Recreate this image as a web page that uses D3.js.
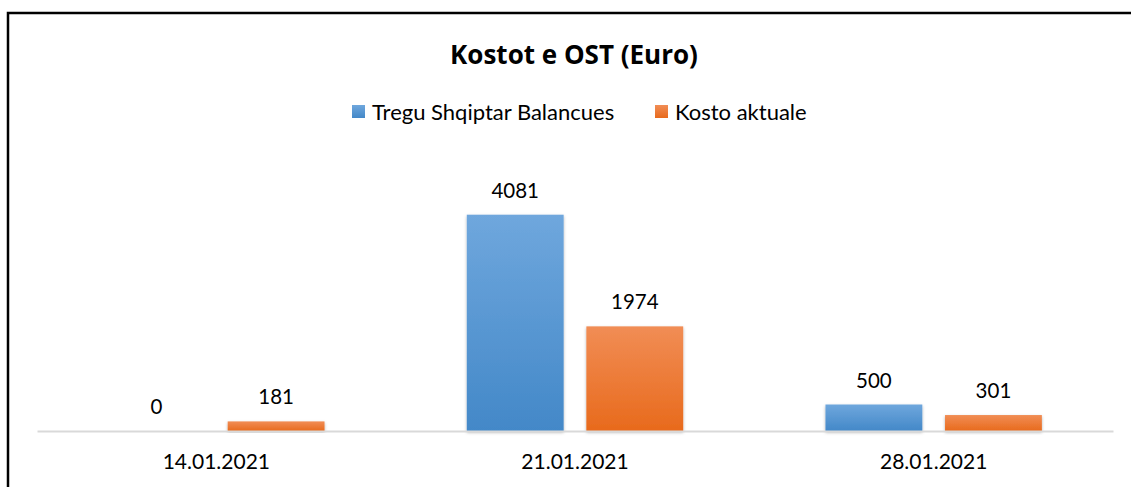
<!DOCTYPE html>
<html>
<head>
<meta charset="utf-8">
<script src="https://cdn.jsdelivr.net/npm/d3@7"></script>
<style>
  html, body { margin: 0; padding: 0; background: #fff; }
  svg { display: block; font-family: Lato, "Open Sans", sans-serif; }
</style>
</head>
<body>
<svg id="chart" width="1131" height="487"></svg>
<script>
// Costs per date, two series
const categories = ["14.01.2021", "21.01.2021", "28.01.2021"];
const seriesNames = ["Tregu Shqiptar Balancues", "Kosto aktuale"];
const tregu = [0, 4081, 500];
const kosto = [181, 1974, 301];
const title = "Kostot e OST (Euro)";

const seriesValues = [tregu, kosto];
const colors = [
  { top: "#6fa7dd", bottom: "#4388c8" },
  { top: "#f18d55", bottom: "#e86a1c" }
];

const svg = d3.select("#chart");
const W = 1131, H = 487;

// gradients + soft shadow
const defs = svg.append("defs");
colors.forEach((c, i) => {
  const g = defs.append("linearGradient").attr("id", "grad" + i)
    .attr("x1", 0).attr("y1", 0).attr("x2", 0).attr("y2", 1);
  g.append("stop").attr("offset", "0%").attr("stop-color", c.top);
  g.append("stop").attr("offset", "100%").attr("stop-color", c.bottom);
});
const f = defs.append("filter").attr("id", "shadow")
  .attr("x", "-20%").attr("y", "-20%").attr("width", "140%").attr("height", "140%");
f.append("feDropShadow").attr("dx", 0).attr("dy", 1.5).attr("stdDeviation", 1.5)
  .attr("flood-color", "#000").attr("flood-opacity", 0.3);

// chart frame
svg.append("rect")
  .attr("x", 8).attr("y", 13).attr("width", W + 20).attr("height", H + 20)
  .attr("fill", "none").attr("stroke", "#000").attr("stroke-width", 2.5);

const x0 = d3.scaleBand().domain(categories).range([37, 1113]).padding(0);
const x1 = d3.scaleBand().domain(seriesNames).range([0, x0.bandwidth()])
  .paddingInner(0.19).paddingOuter(0.595);
const y = d3.scaleLinear().domain([0, 5000]).range([431, 166]);

// title
svg.append("text").attr("x", 574).attr("y", 64)
  .attr("text-anchor", "middle").attr("font-weight", "bold")
  .attr("font-family", "'Open Sans', Lato, sans-serif")
  .attr("font-size", 26).attr("fill", "#000").text(title);

// legend
const legendItems = [
  { name: seriesNames[0], x: 352 },
  { name: seriesNames[1], x: 655 }
];
legendItems.forEach((d, i) => {
  svg.append("rect").attr("x", d.x).attr("y", 105).attr("width", 13).attr("height", 13)
    .attr("fill", "url(#grad" + i + ")");
  svg.append("text").attr("x", d.x + 20).attr("y", 120)
    .attr("font-size", 22).attr("fill", "#000").text(d.name);
});

// bars
const groups = svg.append("g").selectAll("g")
  .data(categories).join("g")
  .attr("transform", d => `translate(${x0(d)},0)`);

groups.selectAll("rect")
  .data((d, ci) => seriesNames.map((s, si) => ({ s, si, v: seriesValues[si][ci] })))
  .join("rect")
  .attr("x", d => x1(d.s))
  .attr("width", x1.bandwidth())
  .attr("y", d => y(d.v))
  .attr("height", d => y(0) - y(d.v))
  .attr("fill", d => "url(#grad" + d.si + ")")
  .attr("filter", "url(#shadow)");

// value labels
groups.selectAll("text.val")
  .data((d, ci) => seriesNames.map((s, si) => ({ s, si, v: seriesValues[si][ci] })))
  .join("text").attr("class", "val")
  .attr("x", d => x1(d.s) + x1.bandwidth() / 2)
  .attr("y", d => y(d.v) - 17)
  .attr("text-anchor", "middle").attr("font-size", 20.5).attr("fill", "#000")
  .text(d => d.v);

// x axis
const xAxis = d3.axisBottom(x0).tickSize(0).tickPadding(23);
const ax = svg.append("g").attr("transform", `translate(0,${y(0)})`).call(xAxis);
ax.select(".domain").attr("stroke", "#d9d9d9").attr("stroke-width", 2);
ax.selectAll(".tick text").attr("font-size", 21).attr("fill", "#000")
  .attr("font-family", "Lato, 'Open Sans', sans-serif");
</script>
</body>
</html>
